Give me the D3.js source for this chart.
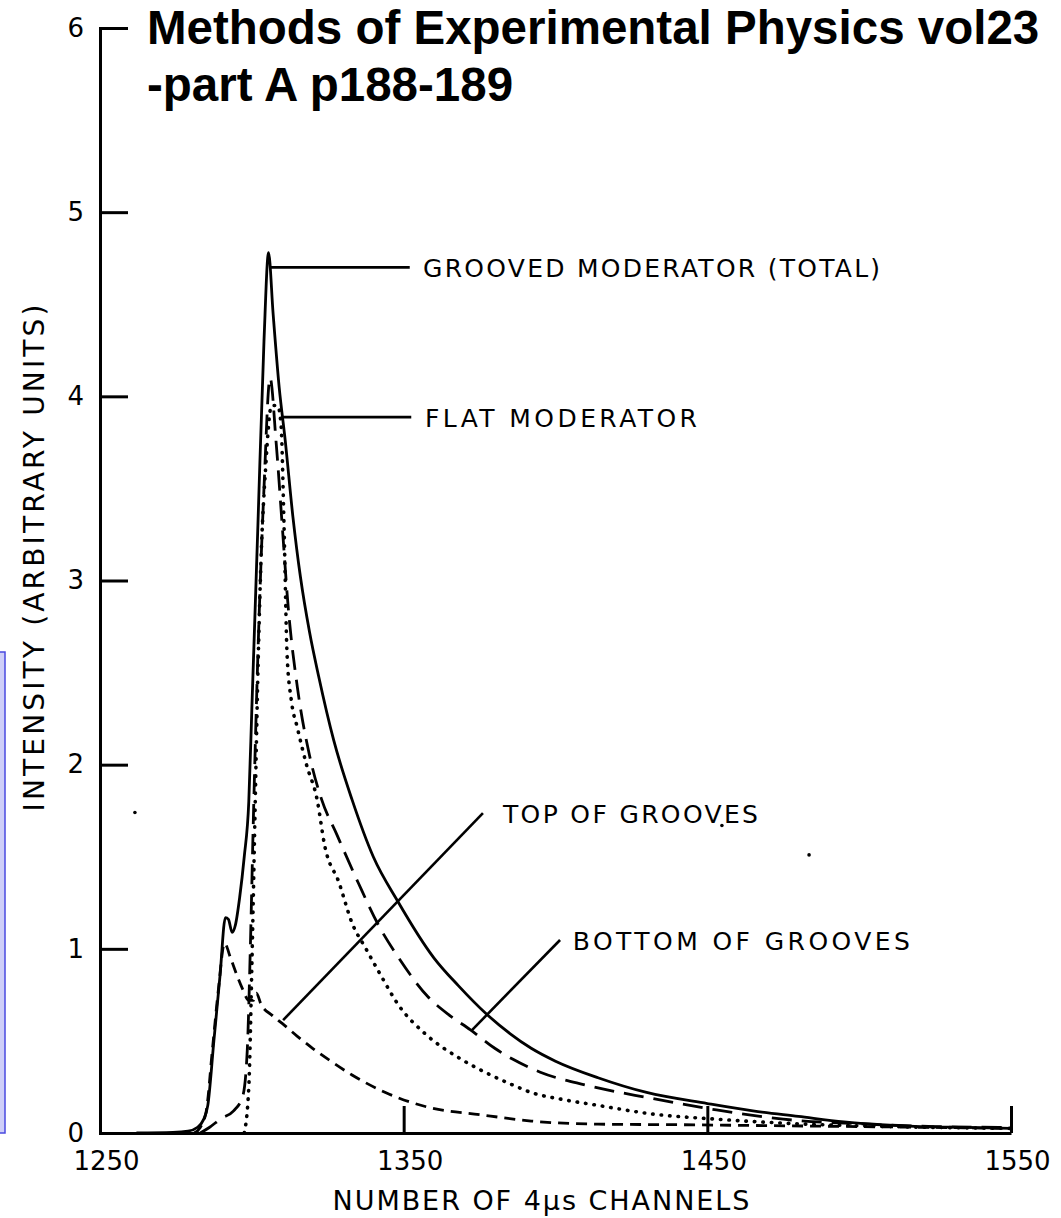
<!DOCTYPE html>
<html>
<head>
<meta charset="utf-8">
<script src="https://cdn.jsdelivr.net/npm/d3@7"></script>
<style>
  html, body { margin: 0; padding: 0; background: #fff; }
  svg { display: block; }
</style>
</head>
<body>
<svg id="chart" width="1061" height="1218"></svg>
<script>
// values (channel, intensity)
const channelTicks = [1250, 1350, 1450, 1550];
const intensityTicks = [0, 1, 2, 3, 4, 5, 6];

const titleLines = ["Methods of Experimental Physics vol23", "-part A p188-189"];
const xLabel = "NUMBER OF 4\u03BCs CHANNELS";
const yLabel = "INTENSITY (ARBITRARY UNITS)";

const groovedTotal = [
  [1262, 0], [1274, 0.003], [1279, 0.01], [1282, 0.03], [1284, 0.07], [1285.5, 0.15],
  [1287.5, 0.5], [1289.5, 0.85], [1291.3, 1.17], [1292.3, 1.16], [1293.5, 1.09], [1294.6, 1.13],
  [1296, 1.28], [1297.5, 1.5], [1299, 1.8], [1300, 2.3], [1302, 3.3], [1304, 4.3], [1305.5, 4.78],
  [1307, 4.45], [1309, 4.05], [1311, 3.76], [1313.5, 3.35], [1316, 3.02], [1319, 2.72], [1322, 2.48],
  [1327, 2.13], [1333, 1.81], [1340, 1.5], [1348, 1.26], [1360, 0.95], [1368, 0.8], [1377, 0.65],
  [1385, 0.54], [1392, 0.46], [1400, 0.39], [1414, 0.30], [1430, 0.22], [1450, 0.16], [1465, 0.12],
  [1480, 0.09], [1495, 0.06], [1507, 0.045], [1520, 0.035], [1535, 0.03], [1550, 0.025]
];

const flatModerator = [
  [1297.5, 0], [1299, 0.25], [1300, 0.9], [1301, 1.7], [1302, 2.5], [1303, 3.1], [1304.5, 3.6],
  [1306.5, 3.95], [1308.5, 3.95], [1309.6, 3.85], [1310.6, 3.3], [1311.6, 2.6], [1313, 2.35],
  [1315, 2.2], [1318, 2.0], [1321.5, 1.81], [1324, 1.56], [1328.7, 1.36], [1333, 1.14], [1337.6, 1.0],
  [1342, 0.87], [1348.5, 0.69], [1357, 0.54], [1369, 0.40], [1378, 0.32], [1386, 0.26], [1392, 0.22],
  [1403, 0.18], [1414, 0.15], [1431, 0.105], [1453, 0.075], [1480, 0.05], [1510, 0.035], [1550, 0.025]
];

const bottomOfGrooves = [
  [1283, 0], [1286, 0.03], [1290, 0.08], [1294, 0.12], [1297, 0.2], [1298.5, 0.45], [1299.5, 1.0],
  [1300.5, 1.7], [1302, 2.6], [1304, 3.5], [1306, 4.1], [1308, 3.75], [1310, 3.3], [1312, 2.85],
  [1315, 2.42], [1319, 2.05], [1323, 1.81], [1328, 1.62], [1335, 1.36], [1342, 1.12], [1348, 0.96],
  [1358, 0.74], [1365, 0.64], [1372, 0.56], [1380, 0.46], [1386, 0.40], [1395, 0.33], [1410, 0.26],
  [1431, 0.19], [1453, 0.125], [1475, 0.075], [1500, 0.05], [1525, 0.035], [1550, 0.03]
];

const topOfGrooves = [
  [1281, 0], [1283, 0.03], [1285, 0.12], [1287, 0.45], [1289, 0.78], [1291, 1.03], [1293, 0.95],
  [1295, 0.86], [1297, 0.78], [1299, 0.72], [1300.5, 0.72], [1301.5, 0.76], [1303, 0.70],
  [1306.6, 0.64], [1310, 0.595], [1315, 0.525], [1320, 0.46], [1326, 0.39], [1333, 0.315], [1344, 0.22],
  [1358, 0.14], [1375, 0.10], [1392, 0.065], [1414, 0.048], [1440, 0.045], [1470, 0.04],
  [1500, 0.035], [1550, 0.025]
];

const curveLabels = ["GROOVED MODERATOR (TOTAL)", "FLAT MODERATOR", "TOP OF GROOVES", "BOTTOM OF GROOVES"];

// leader lines: point on curve -> end near the label, in data units
const leaders = [
  { from: [1306, 4.70], to: [1352, 4.70], text: [1356.4, 4.647] },
  { from: [1310, 3.887], to: [1352.5, 3.887], text: [1357, 3.833] },
  { from: [1310.3, 0.613], to: [1376.1, 1.737], text: [1382.7, 1.683] },
  { from: [1372.5, 0.559], to: [1401.5, 1.048], text: [1405.7, 0.993] }
];

// dust specks on the scan
const specks = [[1261.5, 1.74], [1483.5, 1.51], [1454.8, 1.67]];

const svg = d3.select("#chart");
const font = "'DejaVu Sans', sans-serif";

const x = d3.scaleLinear().domain([1250, 1550]).range([100, 1011]);
const y = d3.scaleLinear().domain([0, 6]).range([1133, 28]);

// bit of the blue box cut off at the left edge
svg.append("rect")
    .attr("x", -10).attr("y", 652)
    .attr("width", 15).attr("height", 481)
    .attr("fill", "#cfcff8")
    .attr("stroke", "#4a4ae0")
    .attr("stroke-width", 1.5);

// title
svg.append("g")
  .selectAll("text")
  .data(titleLines)
  .join("text")
    .attr("x", 147)
    .attr("y", (d, i) => 44 + i * 57)
    .attr("font-family", "'Liberation Sans', Arial, sans-serif")
    .attr("font-weight", "bold")
    .attr("font-size", 47.5)
    .text(d => d);

// axes
const xAxis = svg.append("g")
    .attr("transform", `translate(0,${y(0)})`)
    .call(d3.axisBottom(x).tickValues(channelTicks).tickFormat(d3.format("d"))
      .tickSize(-27).tickSizeOuter(0).tickPadding(19));

const yAxis = svg.append("g")
    .attr("transform", `translate(${x(1250)},0)`)
    .call(d3.axisLeft(y).tickValues(intensityTicks).tickFormat(d3.format("d"))
      .tickSize(-28).tickSizeOuter(-28).tickPadding(16));

[xAxis, yAxis].forEach(g => {
  g.selectAll("path, line").attr("stroke", "#000").attr("stroke-width", 3);
  g.selectAll("text")
      .attr("font-family", font)
      .attr("font-size", 26)
      .attr("fill", "#000");
});
xAxis.selectAll("text").attr("dx", 6);

svg.append("text")
    .attr("x", 541).attr("y", 1210)
    .attr("text-anchor", "middle")
    .attr("font-family", font).attr("font-size", 27)
    .attr("textLength", 417).attr("lengthAdjust", "spacing")
    .text(xLabel);

svg.append("text")
    .attr("transform", "translate(44,558) rotate(-90)")
    .attr("text-anchor", "middle")
    .attr("font-family", font).attr("font-size", 28)
    .attr("textLength", 507).attr("lengthAdjust", "spacing")
    .text(yLabel);

// curves
const line = d3.line()
    .x(d => x(d[0]))
    .y(d => y(d[1]))
    .curve(d3.curveMonotoneX);

const series = [
  { data: flatModerator, dash: "0.5,8", width: 3.6, cap: "round" },
  { data: topOfGrooves, dash: "11,7", width: 2.8, cap: "butt" },
  { data: bottomOfGrooves, dash: "20,10", width: 2.8, cap: "butt" },
  { data: groovedTotal, dash: null, width: 2.8, cap: "butt" }
];

svg.append("g")
  .selectAll("path")
  .data(series)
  .join("path")
    .attr("d", d => line(d.data))
    .attr("fill", "none")
    .attr("stroke", "#000")
    .attr("stroke-width", d => d.width)
    .attr("stroke-linecap", d => d.cap)
    .attr("stroke-linejoin", "round")
    .attr("stroke-dasharray", d => d.dash);

// leaders and labels
const labelWidths = [457, 272, 255, 337];

svg.append("g")
  .selectAll("line")
  .data(leaders)
  .join("line")
    .attr("x1", d => x(d.from[0])).attr("y1", d => y(d.from[1]))
    .attr("x2", d => x(d.to[0])).attr("y2", d => y(d.to[1]))
    .attr("stroke", "#000")
    .attr("stroke-width", 2.6);

svg.append("g")
  .selectAll("text")
  .data(leaders)
  .join("text")
    .attr("x", d => x(d.text[0]))
    .attr("y", d => y(d.text[1]))
    .attr("font-family", font)
    .attr("font-size", 25)
    .attr("textLength", (d, i) => labelWidths[i])
    .attr("lengthAdjust", "spacing")
    .text((d, i) => curveLabels[i]);

svg.append("g")
  .selectAll("circle")
  .data(specks)
  .join("circle")
    .attr("cx", d => x(d[0]))
    .attr("cy", d => y(d[1]))
    .attr("r", 1.8)
    .attr("fill", "#000");
</script>
</body>
</html>
